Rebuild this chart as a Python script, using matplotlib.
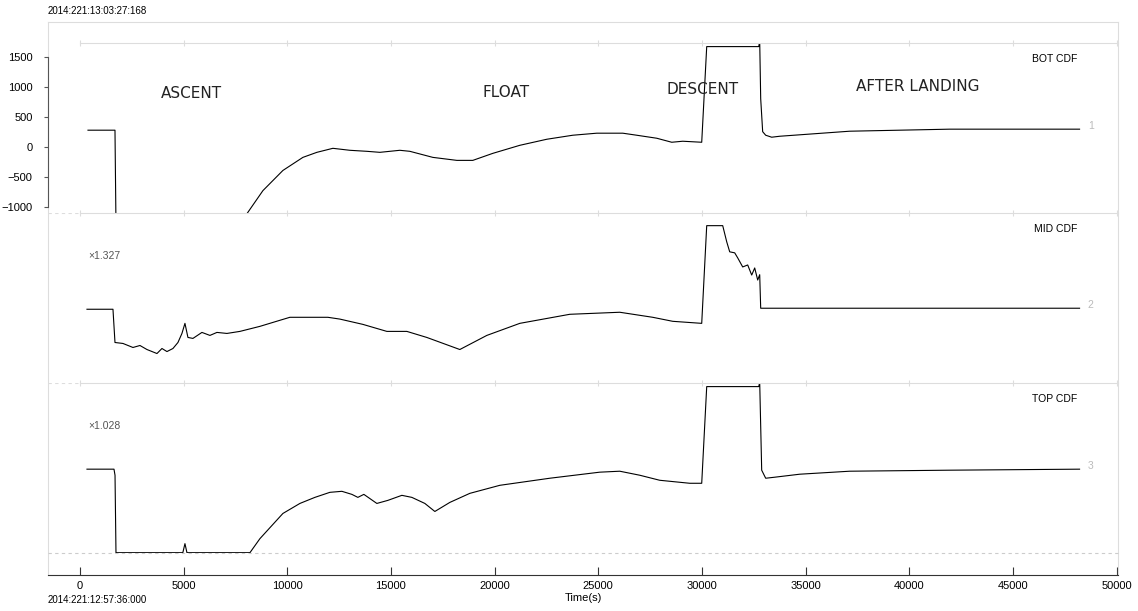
import matplotlib.pyplot as plt

# Zeitachse (s) und Werte der drei Spuren
t_bot = [386, 1688, 1736, 3000, 6000, 7900, 8052, 8824, 9788, 10752, 11427, 12199,
         13018, 13838, 14465, 15429, 15911, 17020, 18178, 18949, 19913, 21215,
         22517, 23770, 24928, 26181, 26856, 27820, 28544, 29074, 29990, 30231,
         32740, 32787, 32835, 32930, 33076, 33365, 33751, 37126, 41948, 48216]
v_bot = [275, 275, -1300, -1600, -1600, -1300, -1117, -732, -396, -178, -94, -27,
         -60, -77, -94, -60, -77, -178, -228, -228, -111, 23,
         124, 191, 225, 225, 191, 141, 74, 91, 74, 1668,
         1668, 1760, 800, 250, 191, 158, 174, 258, 292, 292]

t_mid = [337, 1591, 1688, 2073, 2555, 2893, 3230, 3713, 3954, 4195, 4484, 4725,
         4918, 5063, 5207, 5448, 5882, 6268, 6606, 7088, 7715, 8679, 9643, 10125,
         11234, 11957, 12536, 13645, 14802, 15766, 16731, 18322, 19624, 21215,
         23626, 26037, 27627, 28592, 29990, 30231, 31003, 31196, 31340, 31581,
         31726, 31967, 32208, 32401, 32546, 32690, 32787, 32810, 32835, 48216]
v_mid = [124, 124, -430, -446, -513, -480, -547, -614, -530, -581, -530, -430,
         -279, -111, -346, -362, -262, -312, -262, -279, -245, -161, -60, -10,
         -10, -10, -40, -128, -245, -245, -346, -547, -312, -111,
         40, 74, -10, -77, -111, 1517, 1517, 1248, 1081, 1064,
         980, 829, 862, 694, 812, 611, 700, 430, 141, 141]

t_top = [337, 1640, 1690, 1736, 4960, 5063, 5160, 8197, 8679, 9788, 10608, 11331,
         12054, 12633, 13115, 13404, 13693, 14320, 14851, 15526, 16008, 16635,
         17117, 17840, 18804, 20251, 22662, 25072, 26037, 27001, 27965, 29412,
         29990, 30231, 32740, 32787, 32883, 33076, 33510, 34716, 37126, 41948, 48216]
v_top = [292, 292, 190, -1100, -1100, -949, -1100, -1100, -866, -446, -279, -178,
         -94, -77, -128, -178, -128, -279, -228, -144, -178, -279,
         -413, -262, -111, 23, 141, 242, 258, 191, 107, 57,
         57, 1668, 1668, 1740, 275, 141, 158, 208, 258, 275, 292]

spuren = [(t_bot, v_bot, 'BOT CDF', '1', None),
          (t_mid, v_mid, 'MID CDF', '2', '\u00d71.327'),
          (t_top, v_top, 'TOP CDF', '3', '\u00d71.028')]

phasen = ['ASCENT', 'FLOAT', 'DESCENT', 'AFTER LANDING']
phasen_t = [5400, 20540, 30040, 40400]
phasen_v = [879, 895, 960, 995]

xlim = (-1543, 50070)
ylim = (-1105, 1728)
hell = '#dddddd'

fig = plt.figure(figsize=(11.38, 6.11), dpi=100)

# Rahmen mit Zeitachse
rahmen = fig.add_axes([48/1138, 1-575/611, 1070/1138, 553/611])
rahmen.set_xlim(xlim)
rahmen.set_ylim(0, 1)
rahmen.set_yticks([])
rahmen.set_xticks(range(0, 50001, 5000))
rahmen.tick_params(axis='x', direction='in', length=6, width=0.8, color='#333333',
                   labelsize=8, pad=4)
for s in ['left', 'top', 'right']:
    rahmen.spines[s].set_color(hell)
rahmen.spines['bottom'].set_color('#333333')
for lab in rahmen.get_xticklabels():
    lab.set_family('Liberation Sans')
rahmen.set_xlabel('Time(s)', fontsize=8, family='Liberation Sans', labelpad=2)

# Drei Spuren übereinander
for i, (t, v, name, nr, faktor) in enumerate(spuren):
    unten = 1 - (213 + 170*i) / 611
    ax = fig.add_axes([48/1138, unten, 1070/1138, 170/611])
    ax.patch.set_alpha(0)
    ax.set_xlim(xlim)
    ax.set_ylim(ylim)
    ax.plot(t, v, color='black', lw=0.8)
    for s in ['left', 'bottom', 'right']:
        ax.spines[s].set_visible(False)
    ax.spines['top'].set_color(hell)
    ax.spines['top'].set_bounds(0, xlim[1])
    ax.set_xticks(range(0, 50001, 5000))
    ax.tick_params(axis='x', bottom=False, top=True, labelbottom=False,
                   direction='inout', length=4, color=hell)
    if i > 0:
        ax.hlines(ylim[1], xlim[0], 0, color=hell, lw=0.8, ls=(0, (3, 3)))
    if i == 2:
        ax.axhline(ylim[0], color='#cccccc', lw=0.8, ls=(0, (3, 3)),
                   clip_on=False, zorder=0)
    ax.text(48120, 1460, name, ha='right', va='center', fontsize=7.5,
            family='Liberation Sans')
    ax.annotate(nr, xy=(t[-1], v[-1]), xytext=(6, 2), textcoords='offset points',
                ha='left', va='center', fontsize=7.5, color='#bbbbbb',
                family='Liberation Sans')
    if faktor:
        ax.text(386, 1010, faktor, ha='left', va='center', fontsize=7.5,
                color='#555555', family='Liberation Sans')
    if i == 0:
        ax.spines['left'].set_visible(True)
        ax.spines['left'].set_color('#555555')
        ax.spines['left'].set_bounds(-1000, 1500)
        ax.set_yticks(range(-1000, 1501, 500))
        ax.tick_params(axis='y', length=3, color='#555555', labelsize=8, pad=8)
        for lab in ax.get_yticklabels():
            lab.set_family('Liberation Sans')
        for p, pt, pv in zip(phasen, phasen_t, phasen_v):
            ax.text(pt, pv, p, ha='center', va='center', fontsize=11,
                    color='#222222')
    else:
        ax.set_yticks([])

fig.text(48/1138, 1-11/611, '2014:221:13:03:27:168', fontsize=7,
         family='Liberation Sans', va='center')
fig.text(48/1138, 1-600/611, '2014:221:12:57:36:000', fontsize=7,
         family='Liberation Sans', va='center')

fig.savefig('out.png', dpi=100)
